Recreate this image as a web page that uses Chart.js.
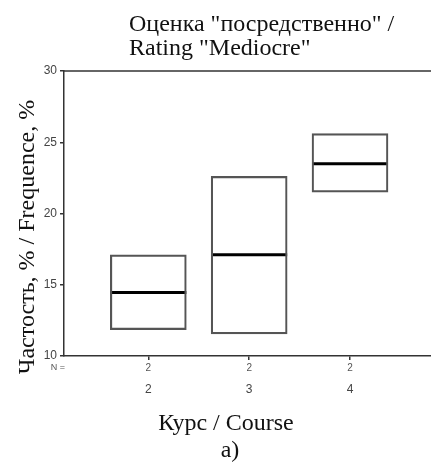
<!DOCTYPE html>
<html>
<head>
<meta charset="utf-8">
<script src="https://cdn.jsdelivr.net/npm/chart.js@4.4.1/dist/chart.umd.min.js"></script>
<style>
  html, body { margin: 0; padding: 0; background: #fff; }
  #wrap { width: 431px; height: 463px; }
</style>
</head>
<body>
<div id="wrap"><canvas id="c" width="431" height="463"></canvas></div>
<script>
// Course groups and their box statistics (percent)
const courses = ['2', '3', '4'];
const coursePos = [2, 3, 4];
const boxLow = [11.85, 11.55, 21.5];
const boxHigh = [17.1, 22.6, 25.6];
const medians = [14.45, 17.1, 23.5];
const nCounts = [2, 2, 2];
const yTickValues = [10, 15, 20, 25, 30];

const titleLines = ['Оценка "посредственно" /', 'Rating "Mediocre"'];
const yTitle = 'Частость, % / Frequence, %';
const xTitle = 'Курс / Course';
const panelLabel = 'a)';

const serif = '"Liberation Serif", "Times New Roman", serif';
const sans = '"Liberation Sans", Arial, sans-serif';

const decorations = {
  id: 'decorations',
  afterDraw(chart) {
    const { ctx, chartArea, scales } = chart;
    ctx.save();
    // top frame line
    ctx.strokeStyle = '#333';
    ctx.lineWidth = 1.5;
    ctx.beginPath();
    ctx.moveTo(chartArea.left, chartArea.top);
    ctx.lineTo(chartArea.right, chartArea.top);
    ctx.stroke();

    // N = row
    ctx.fillStyle = '#555';
    ctx.font = '9px ' + sans;
    ctx.textAlign = 'center';
    ctx.textBaseline = 'middle';
    ctx.fillText('N =', 58, 368);
    ctx.font = '10px ' + sans;
    coursePos.forEach((v, i) => {
      ctx.fillText(String(nCounts[i]), scales.x.getPixelForValue(v), 368);
    });

    // title
    ctx.fillStyle = '#111';
    ctx.font = '24px ' + serif;
    ctx.textAlign = 'left';
    ctx.textBaseline = 'alphabetic';
    ctx.fillText(titleLines[0], 129, 31);
    ctx.fillText(titleLines[1], 129, 55);

    // y axis title
    ctx.save();
    ctx.translate(34, 237);
    ctx.rotate(-Math.PI / 2);
    ctx.textAlign = 'center';
    ctx.textBaseline = 'alphabetic';
    ctx.font = '24px ' + serif;
    ctx.fillText(yTitle, 0, 0);
    ctx.restore();

    // x axis title and panel label
    ctx.textAlign = 'center';
    ctx.textBaseline = 'alphabetic';
    ctx.font = '24px ' + serif;
    ctx.fillText(xTitle, 226, 430);
    ctx.fillText(panelLabel, 230, 457);
    ctx.restore();
  }
};

new Chart(document.getElementById('c'), {
  type: 'bar',
  data: {
    datasets: [
      {
        type: 'bar',
        data: coursePos.map((x, i) => ({ x: x, y: [boxLow[i], boxHigh[i]] })),
        backgroundColor: 'rgba(255,255,255,0)',
        borderColor: '#555',
        borderWidth: 1.5,
        borderSkipped: false,
        barThickness: 76
      },
      {
        type: 'scatter',
        data: coursePos.map((x, i) => ({ x: x, y: medians[i] })),
        pointStyle: 'line',
        radius: 38,
        hoverRadius: 38,
        borderWidth: 3,
        borderColor: '#000',
        backgroundColor: '#000'
      }
    ]
  },
  options: {
    responsive: false,
    animation: false,
    layout: { autoPadding: false, padding: { top: 71, right: 0, left: 0, bottom: 0 } },
    plugins: { legend: { display: false }, tooltip: { enabled: false }, title: { display: false } },
    scales: {
      x: {
        type: 'linear',
        offset: false,
        min: 1.164,
        max: 4.803,
        afterBuildTicks: s => { s.ticks = coursePos.map(v => ({ value: v })); },
        afterFit: s => { s.height = 107; s.paddingRight = 0; s.paddingLeft = 0; },
        ticks: {
          callback: v => courses[coursePos.indexOf(v)] || '',
          font: { family: sans, size: 12 },
          color: '#444',
          padding: 22,
          maxRotation: 0
        },
        grid: { display: true, offset: false, drawOnChartArea: false, drawTicks: true, tickLength: 4, color: '#333', lineWidth: 1.5 },
        border: { display: true, color: '#333', width: 1.5 }
      },
      y: {
        min: 10,
        max: 30,
        afterBuildTicks: s => { s.ticks = yTickValues.map(v => ({ value: v })); },
        afterFit: s => { s.width = 64; },
        ticks: {
          font: { family: sans, size: 12 },
          color: '#444',
          padding: 3
        },
        grid: { display: true, drawOnChartArea: false, drawTicks: true, tickLength: 4, color: '#333', lineWidth: 1.5 },
        border: { display: true, color: '#333', width: 1.5 }
      }
    }
  },
  plugins: [decorations]
});
</script>
</body>
</html>
